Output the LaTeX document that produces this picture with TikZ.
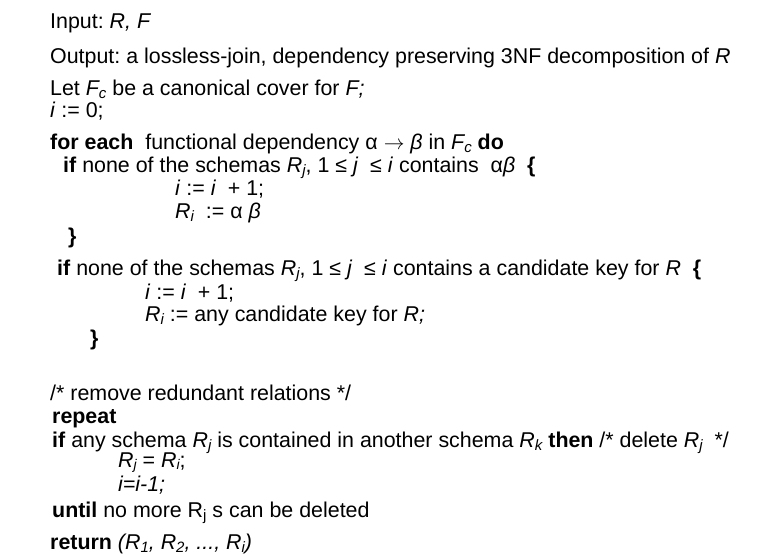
\documentclass[tikz,border=0pt]{standalone}
\usepackage{fontspec}
\setmainfont{Liberation Sans}
\newcommand\sbx[1]{\raisebox{-3.5pt}{\fontsize{15}{15}\selectfont #1}}
\newcommand\sbj[1]{\raisebox{-2.5pt}{\fontsize{14}{14}\selectfont #1}}
\frenchspacing
\begin{document}
\frenchspacing
\begin{tikzpicture}[x=1pt,y=-1pt,every node/.style={anchor=base west,inner sep=0pt,font=\fontsize{21.4}{21}\selectfont}]
\useasboundingbox (0,0) rectangle (761,557);
\node (l1) at (50,28) {Input: \textit{R, F}};
\node (l2) at (50,63) {Output: a lossless-join, dependency preserving 3NF decomposition of \textit{R}};
\node (l3) at (50,95) {Let \textit{F\sbx{c}} be a canonical cover for \textit{F;}};
\node (l4) at (50,117) {\textit{i} := 0;};
\node (l5) at (50,149) {\textbf{for each}\ \ functional dependency α $\rightarrow$ \textit{β} in \textit{F\sbx{c}} \textbf{do}};
\node (l6) at (63,172) {\textbf{if} none of the schemas \textit{R\sbx{j}}, 1 ≤ \textit{j}\ \ ≤ \textit{i} contains\ \ α\textit{β}\ \ \textbf{\{}};
\node (l7) at (175,195) {\textit{i} := \textit{i}\ \ + 1;};
\node (l8) at (175,218) {\textit{R\sbx{i}}\ \ := α \textit{β}};
\node (l9) at (68,243) {\textbf{\}}};
\node (l10) at (57,275) {\textbf{if} none of the schemas \textit{R\sbx{j}}, 1 ≤ \textit{j}\ \ ≤ \textit{i} contains a candidate key for \textit{R}\ \ \textbf{\{}};
\node (l11) at (145,299) {\textit{i} := \textit{i}\ \ + 1;};
\node (l12) at (145,321) {\textit{R\sbx{i}} := any candidate key for \textit{R;}};
\node (l13) at (90,345) {\textbf{\}}};
\node (l14) at (50,400) {/* remove redundant relations */};
\node (l15) at (52,423) {\textbf{repeat}};
\node (l16) at (52,447) {\textbf{if} any schema \textit{R\sbx{j}} is contained in another schema \textit{R\sbx{k}} \textbf{then} /* delete \textit{R\sbx{j}}\ \ */};
\node (l17) at (118,467) {\textit{R\sbj{j}} = \textit{R\sbj{i}};};
\node (l18) at (118,491) {\textit{i=i-1;}};
\node (l19) at (52,517) {\textbf{until} no more R\sbx{j} s can be deleted};
\node (l20) at (50,549) {\textbf{return} \textit{(R\sbx{1}, R\sbx{2}, ..., R\sbx{i})}};
\end{tikzpicture}
\end{document}
